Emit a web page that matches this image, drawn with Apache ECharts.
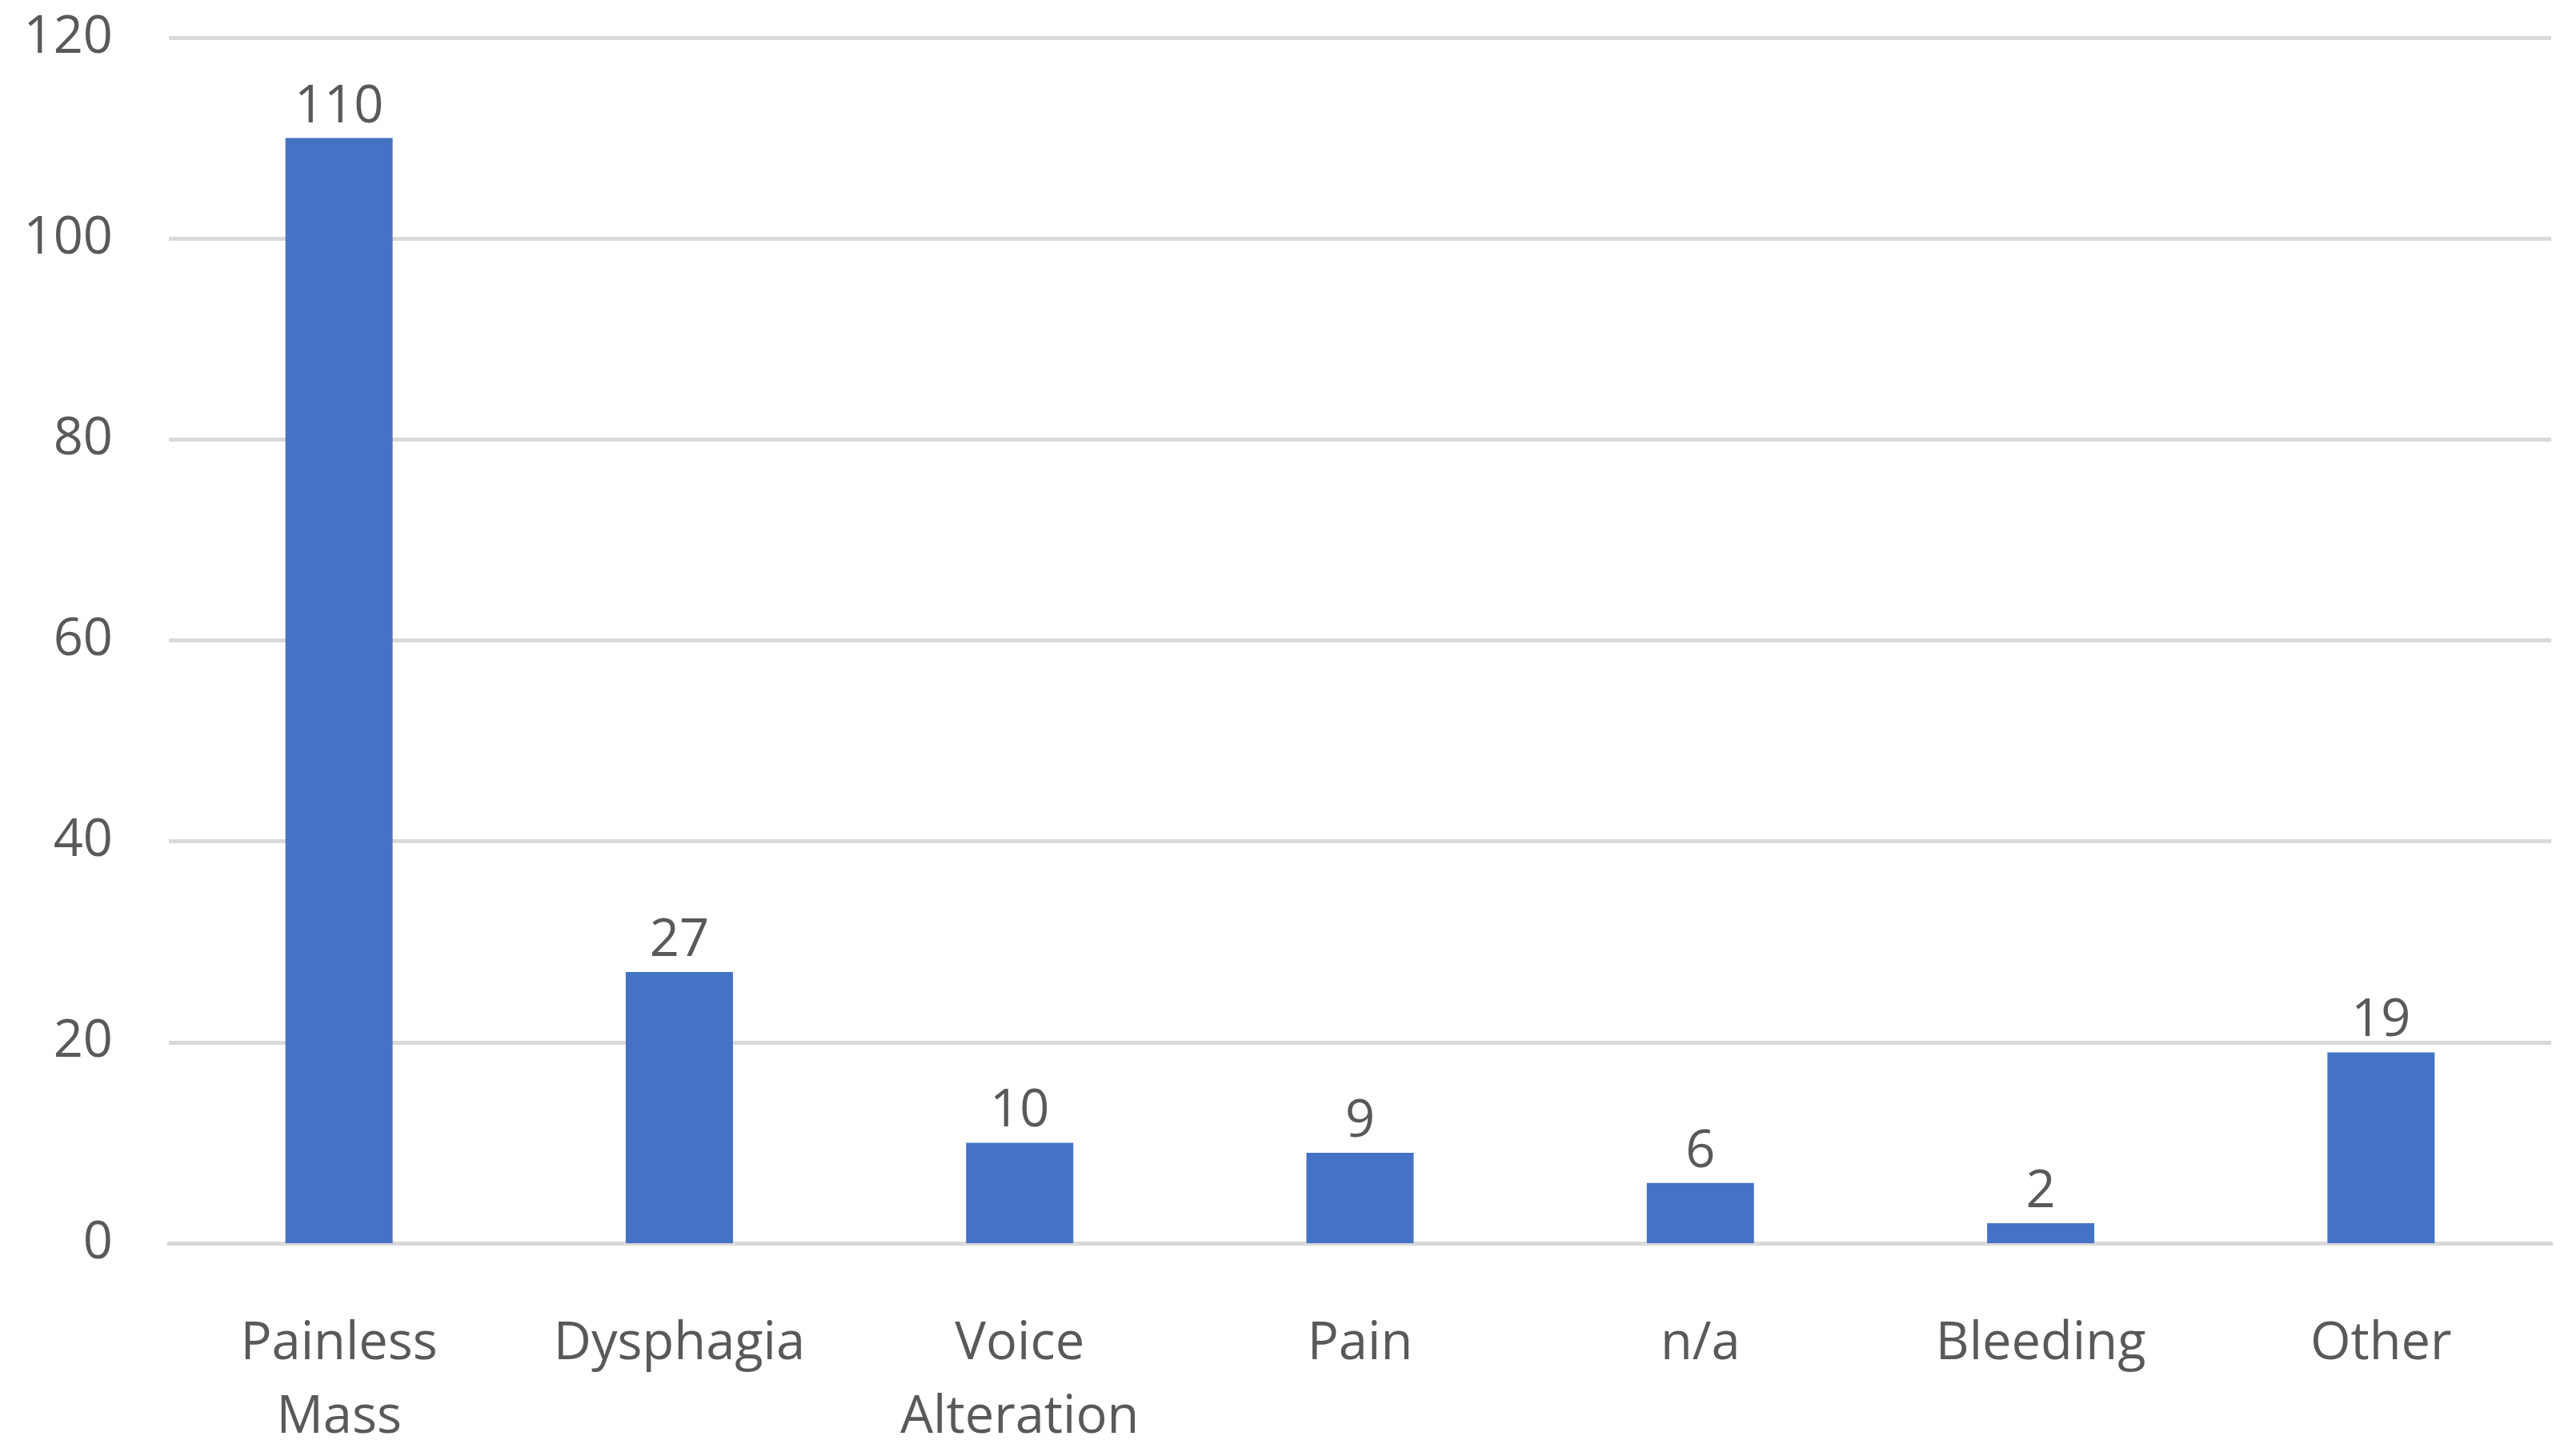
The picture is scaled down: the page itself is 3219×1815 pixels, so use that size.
<!DOCTYPE html>
<html>
<head>
<meta charset="utf-8">
<script src="https://cdn.jsdelivr.net/npm/echarts@6/dist/echarts.min.js"></script>
<style>
html,body{margin:0;padding:0;background:#fff;}
#chart{width:3219px;height:1815px;}
</style>
</head>
<body>
<div id="chart"></div>
<script>
const categories = ['Painless\nMass', 'Dysphagia', 'Voice\nAlteration', 'Pain', 'n/a', 'Bleeding', 'Other'];
const values = [110, 27, 10, 9, 6, 2, 19];
const yTicks = { min: 0, max: 120, interval: 20 };

const FONT = '"Open Sans", "Noto Sans", sans-serif';
const TEXT = '#595959';
const GRID = '#d9d9d9';

const chart = echarts.init(document.getElementById('chart'), null, { renderer: 'canvas' });
chart.setOption({
  backgroundColor: '#ffffff',
  animation: false,
  grid: { left: 211, right: 31, top: 47, bottom: 261, containLabel: false, outerBoundsMode: 'none' },
  xAxis: {
    type: 'category',
    data: categories,
    axisLine: { show: true, lineStyle: { color: GRID, width: 5 } },
    axisTick: { show: false },
    axisLabel: { color: TEXT, fontFamily: FONT, fontSize: 65, margin: 80, lineHeight: 92, interval: 0 }
  },
  yAxis: {
    type: 'value',
    min: yTicks.min, max: yTicks.max, interval: yTicks.interval,
    axisLine: { show: false },
    axisTick: { show: false },
    splitLine: { lineStyle: { color: GRID, width: 5 } },
    axisLabel: { color: TEXT, fontFamily: FONT, fontSize: 65, margin: 70 }
  },
  series: [{
    type: 'bar',
    data: values,
    barWidth: '31.5%',
    itemStyle: { color: '#4472C4' },
    label: { show: true, position: 'top', distance: 6, color: TEXT, fontFamily: FONT, fontSize: 65 }
  }]
});
</script>
</body>
</html>
